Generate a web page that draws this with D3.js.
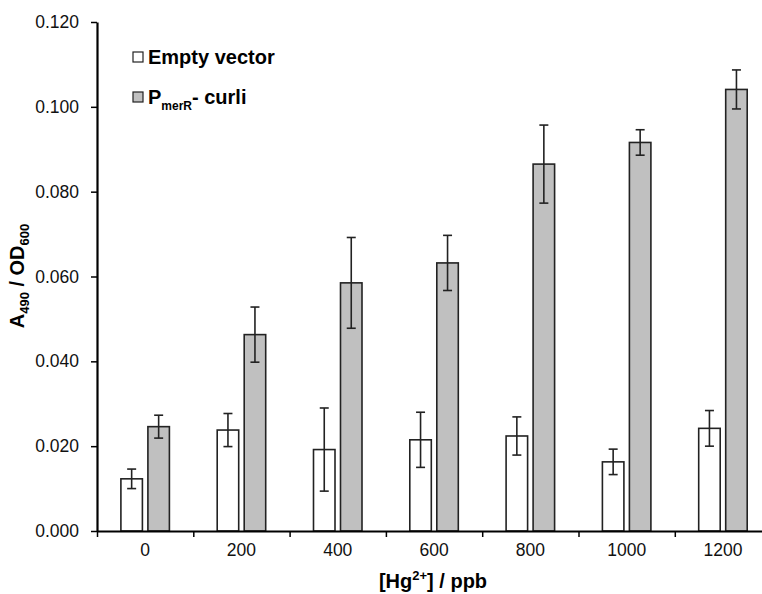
<!DOCTYPE html>
<html>
<head>
<meta charset="utf-8">
<script src="https://cdn.jsdelivr.net/npm/d3@7"></script>
<style>
body { margin: 0; background: #fff; }
text { font-family: "Liberation Sans", Arial, sans-serif; }
</style>
</head>
<body>
<script>
// data
var doses = ["0", "200", "400", "600", "800", "1000", "1200"];
var emptyVal = [0.0123, 0.0238, 0.0192, 0.0215, 0.0224, 0.0163, 0.0242];
var emptyErr = [0.0023, 0.0039, 0.0098, 0.0065, 0.0045, 0.0030, 0.0042];
var merVal = [0.0246, 0.0463, 0.0585, 0.0632, 0.0865, 0.0916, 0.1041];
var merErr = [0.0027, 0.0065, 0.0107, 0.0065, 0.0092, 0.0030, 0.0046];
var yTicks = [0, 0.02, 0.04, 0.06, 0.08, 0.10, 0.12];

var width = 762, height = 594;
var plotLeft = 97, plotTop = 22, plotBottom = 531, plotRight = 97 + 7 * 96.3;

var svg = d3.select("body").append("svg")
    .attr("width", width)
    .attr("height", height);

var x = d3.scaleBand().domain(doses).range([plotLeft, plotRight]);
var xEdge = d3.scaleLinear().domain([0, 7]).range([plotLeft, plotRight]);
var y = d3.scaleLinear().domain([0, 0.12]).range([plotBottom, plotTop]);

var barW = 21.5, gap = 5.5;

var rows = doses.map(function (d, i) {
    return { dose: d, e: emptyVal[i], ee: emptyErr[i], m: merVal[i], me: merErr[i] };
});

var series = [
    { key: "e", err: "ee", fill: "#ffffff", off: -gap / 2 - barW },
    { key: "m", err: "me", fill: "#c0c0c0", off: gap / 2 }
];

series.forEach(function (s) {
    var g = svg.append("g");
    g.selectAll("rect")
        .data(rows)
        .enter().append("rect")
        .attr("x", function (d) { return x(d.dose) + x.bandwidth() / 2 + s.off; })
        .attr("y", function (d) { return y(d[s.key]); })
        .attr("width", barW)
        .attr("height", function (d) { return plotBottom - y(d[s.key]); })
        .style("fill", s.fill)
        .style("stroke", "#222")
        .style("stroke-width", 1.6);

    // error bars
    var eb = g.selectAll(".err")
        .data(rows)
        .enter().append("g")
        .attr("class", "err")
        .style("stroke", "#222")
        .style("stroke-width", 1.6);
    var cx = function (d) { return x(d.dose) + x.bandwidth() / 2 + s.off + barW / 2; };
    eb.append("line")
        .attr("x1", cx).attr("x2", cx)
        .attr("y1", function (d) { return y(d[s.key] + d[s.err]); })
        .attr("y2", function (d) { return y(d[s.key] - d[s.err]); });
    [1, -1].forEach(function (sign) {
        eb.append("line")
            .attr("x1", function (d) { return cx(d) - 4.5; })
            .attr("x2", function (d) { return cx(d) + 4.5; })
            .attr("y1", function (d) { return y(d[s.key] + sign * d[s.err]); })
            .attr("y2", function (d) { return y(d[s.key] + sign * d[s.err]); });
    });
});

// y axis
var yAxis = d3.axisLeft(y).tickValues(yTicks).tickFormat(d3.format(".3f"))
    .tickSize(6).tickSizeOuter(0).tickPadding(12);
var gy = svg.append("g")
    .attr("transform", "translate(" + plotLeft + ",0)")
    .call(yAxis);
gy.select(".domain").style("stroke-width", 2.2);
gy.selectAll(".tick line").style("stroke-width", 1.5);
gy.selectAll("text").style("font-size", "17.5px").style("fill", "#111");

// x axis: ticks at band edges, labels at band centres
var gx = svg.append("g")
    .attr("transform", "translate(0," + plotBottom + ")")
    .call(d3.axisBottom(xEdge).tickValues(d3.range(0, 8)).tickFormat("")
        .tickSize(6).tickSizeOuter(0));
gx.select(".domain").style("stroke-width", 2.2);
gx.selectAll(".tick line").style("stroke-width", 1.5);

var gxl = svg.append("g")
    .attr("transform", "translate(0," + plotBottom + ")")
    .call(d3.axisBottom(x).tickSize(0).tickPadding(13));
gxl.select(".domain").remove();
gxl.selectAll("text").style("font-size", "17.5px").style("fill", "#111");

// axis titles
var xt = svg.append("text")
    .attr("x", 433)
    .attr("y", 588)
    .attr("text-anchor", "middle")
    .style("font-size", "20px")
    .style("font-weight", "bold");
xt.append("tspan").text("[Hg");
xt.append("tspan").attr("dy", -8).style("font-size", "13px").text("2+");
xt.append("tspan").attr("dy", 8).text("] / ppb");

var yt = svg.append("text")
    .attr("transform", "translate(24,276) rotate(-90)")
    .attr("text-anchor", "middle")
    .style("font-size", "20px")
    .style("font-weight", "bold");
yt.append("tspan").text("A");
yt.append("tspan").attr("dy", 5).style("font-size", "13px").text("490");
yt.append("tspan").attr("dy", -5).text(" / OD");
yt.append("tspan").attr("dy", 5).style("font-size", "13px").text("600");

// legend
var legend = svg.append("g");
[["#ffffff", 52], ["#c0c0c0", 92]].forEach(function (l) {
    legend.append("rect")
        .attr("x", 133).attr("y", l[1])
        .attr("width", 10).attr("height", 10)
        .style("fill", l[0])
        .style("stroke", "#222")
        .style("stroke-width", 1.2);
});
legend.append("text")
    .attr("x", 148).attr("y", 64)
    .style("font-size", "20px").style("font-weight", "bold")
    .text("Empty vector");
var lt = legend.append("text")
    .attr("x", 148).attr("y", 104)
    .style("font-size", "20px").style("font-weight", "bold");
lt.append("tspan").text("P");
lt.append("tspan").attr("dy", 6).style("font-size", "12px").text("merR");
lt.append("tspan").attr("dy", -6).text("- curli");
</script>
</body>
</html>
